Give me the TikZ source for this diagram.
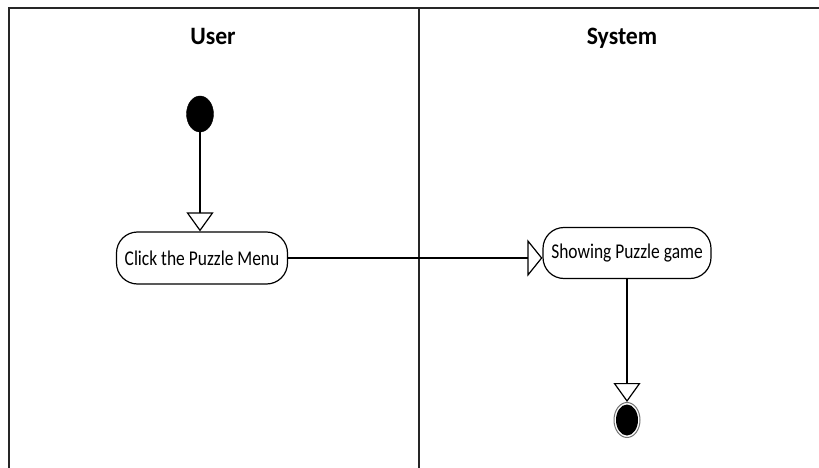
\documentclass[tikz,border=0pt]{standalone}
\usepackage{fontspec}
\setmainfont{Carlito}
\usetikzlibrary{arrows.meta,shapes.geometric}
\begin{document}
\begin{tikzpicture}[x=1pt,y=-1pt,
  frame/.style={line width=1.6pt, draw=black!85},
  conn/.style={line width=1.3pt},
  lane/.style={font=\bfseries\fontsize{25}{28}\selectfont, anchor=base},
  act/.style={draw, line width=1.2pt, rounded corners=21pt, inner sep=0pt,
    font=\fontsize{21}{24}\selectfont},
  tipv/.style={-{Triangle[open,length=19pt,width=27pt,line width=1.2pt]}},
  tiph/.style={-{Triangle[open,length=15pt,width=37pt,line width=1.2pt]}}
]
\useasboundingbox (0,0) rectangle (819,468);
\fill[white] (0,0) rectangle (819,468);
% swimlane frame
\coordinate (tl) at (9,8);
\coordinate (tr) at (819,8);
\coordinate (bl) at (9,468);
\coordinate (tm) at (419,8);
\coordinate (bm) at (419,468);
\draw[frame] (bl) -- (tl) -- (tr);
\draw[frame] (tm) -- (bm);
% lane titles
\node[lane] (user) at (213,45) {\scalebox{0.95}[1]{User}};
\node[lane] (system) at (622,45) {\scalebox{0.95}[1]{System}};
% start
\node[ellipse, fill=black, draw=black, minimum width=27pt, minimum height=36pt, inner sep=0pt] (start) at (200,114) {};
% activities
\node[act, minimum width=171pt, minimum height=52pt] (click) at (202,258) {\scalebox{0.83}[1]{Click the Puzzle Menu}};
\node[act, minimum width=168pt, minimum height=51pt] (show) at (627,253) {\scalebox{0.83}[1]{Showing Puzzle game}};
% end
\node[ellipse, draw=black!55, line width=1pt, minimum width=26pt, minimum height=35pt, inner sep=0pt] (end) at (627,420) {};
\node[ellipse, fill=black, minimum width=22pt, minimum height=31pt, inner sep=0pt] (endin) at (end.center) {};
% connectors
\draw[conn, tipv] (start.south) -- (start.south |- click.north);
\draw[conn, tiph] (click.east) -- (click.east -| show.west);
\draw[conn, tipv] (show.south) -- (end.north);
\end{tikzpicture}
\end{document}
